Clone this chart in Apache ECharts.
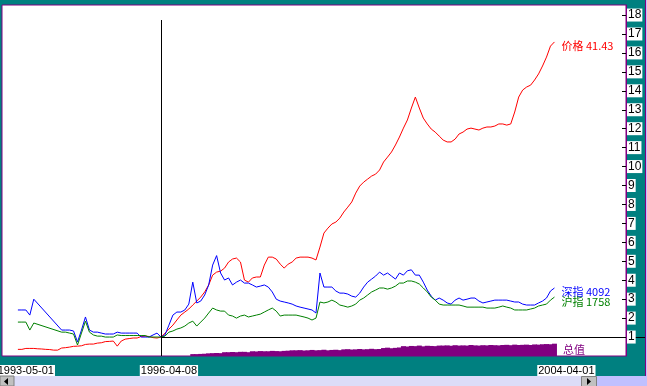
<!DOCTYPE html>
<html><head><meta charset="utf-8">
<script src="https://cdn.jsdelivr.net/npm/echarts@6/dist/echarts.min.js"></script>
<style>html,body{margin:0;padding:0;background:#008080;overflow:hidden}#c{width:647px;height:386px;}</style>
</head><body><div id="c"></div>
<script>
// ---- data ----
const categoryCount = 158;           // trading-period slots on the x axis
const baseIndex = 40;                // 1996-04-08, normalisation base (all series = 1)
const dateLabels = {6: '1993-05-01', 42: '1996-04-08', 142: '2004-04-01'};
const yTickValues = [1,2,3,4,5,6,7,8,9,10,11,12,13,14,15,16,17,18];

const price = [null,null,null,null,
 0.35,0.35,0.4,0.4,0.4,0.38,0.37,0.35,0.34,0.31,0.31,0.42,0.44,0.47,0.51,0.52,0.54,0.61,0.63,0.63,0.68,0.7,0.76,0.77,0.79,0.52,0.79,0.89,0.92,0.95,0.95,1.03,1.05,1.03,0.97,0.95,
 1.0,1.2,1.42,1.63,1.9,2.16,2.32,2.48,2.69,2.9,
 3.11,3.38,3.75,4.27,4.43,4.48,4.64,4.96,5.12,5.17,
 4.96,4.01,3.9,4.12,4.17,4.17,4.8,5.22,5.22,5.12,
 4.85,4.64,4.85,4.96,5.17,5.22,5.22,5.22,5.17,5.07,
 5.75,6.49,6.75,6.97,7.07,7.28,7.6,7.86,8.13,8.6,
 8.97,9.18,9.34,9.5,9.6,9.82,10.24,10.5,10.77,11.14,
 11.56,12.03,12.46,13.09,13.67,13.09,12.56,12.25,11.98,11.82,
 11.61,11.4,11.3,11.3,11.45,11.72,11.82,11.98,12.03,11.98,
 11.93,12.03,12.09,12.09,12.14,12.25,12.25,12.19,12.25,12.88,
 13.67,14.04,14.2,14.3,14.57,14.89,15.31,15.78,16.36,16.58];

const shenzhen = [null,null,null,null,
 2.43,2.43,2.43,2.16,3.0,null,null,null,null,null,null,
 1.37,1.37,1.37,1.32,0.74,1.37,2.06,1.37,1.26,1.26,1.21,1.16,1.16,1.16,1.26,1.21,1.21,1.21,1.21,1.21,1.0,1.0,1.0,1.11,1.21,
 1.0,1.11,1.63,2.16,2.32,2.32,2.43,2.74,3.9,2.8,
 2.9,3.22,3.75,4.8,5.3,4.38,4.01,4.12,3.75,3.9,
 4.01,3.85,3.85,3.75,3.64,3.69,3.75,3.64,3.38,3.0,
 2.9,2.85,2.8,2.74,2.64,2.58,2.53,2.48,2.43,2.27,
 4.38,3.64,3.64,3.64,3.43,3.32,3.32,3.27,3.16,3.11,
 3.32,3.64,3.9,4.06,4.22,4.43,4.27,4.38,4.22,4.06,
 4.38,4.27,4.5,4.55,4.27,4.27,3.9,3.48,3.16,2.95,
 3.06,2.95,2.8,2.74,2.95,3.06,2.95,3.0,3.06,3.06,
 2.9,2.8,2.85,2.9,2.95,2.95,2.95,2.95,2.9,2.85,
 2.85,2.74,2.69,2.69,2.69,2.8,2.9,3.06,3.43,3.59];

const shanghai = [null,null,null,null,
 1.79,1.79,1.79,1.37,1.74,null,null,null,null,null,null,
 1.26,1.26,1.21,1.16,0.58,1.21,1.84,1.26,1.11,1.05,1.05,1.0,1.0,1.0,1.11,1.08,1.08,1.08,1.08,1.08,1.08,1.08,1.0,1.0,1.0,
 1.0,1.05,1.26,1.32,1.42,1.48,1.58,1.74,1.84,1.58,
 1.79,2.0,2.27,2.53,2.43,2.37,2.37,2.16,2.11,2.0,
 2.11,2.16,2.06,2.11,2.16,2.21,2.32,2.43,2.53,2.37,
 2.11,2.16,2.16,2.16,2.16,2.11,2.06,2.0,1.9,2.0,
 2.85,2.8,2.85,2.95,2.85,2.69,2.64,2.58,2.64,2.74,
 2.95,3.06,3.22,3.38,3.48,3.59,3.59,3.53,3.59,3.69,
 3.85,3.85,3.96,3.96,3.9,3.8,3.59,3.38,3.11,2.95,
 2.74,2.69,2.69,2.69,2.69,2.69,2.64,2.58,2.58,2.58,
 2.58,2.58,2.53,2.53,2.53,2.58,2.64,2.58,2.53,2.43,
 2.43,2.43,2.43,2.48,2.53,2.64,2.69,2.74,2.95,3.11];

const totalValue = [null,null,null,null,null,null,null,null,null,null,
 null,null,null,null,null,null,null,null,null,null,
 null,null,null,null,null,null,null,null,null,null,
 null,null,null,null,null,null,null,null,null,null,
 null,null,null,null,null,null,null,null,
 0.1,0.1,0.11,0.12,0.14,0.15,0.16,0.15,0.2,0.2,0.21,0.2,0.22,0.22,0.2,
 0.25,0.24,0.26,0.25,0.25,0.27,0.26,0.25,0.27,0.28,
 0.3,0.3,0.31,0.29,0.3,0.32,0.3,0.31,0.33,0.3,0.32,0.33,0.31,
 0.35,0.36,0.34,0.35,0.37,0.35,0.36,0.38,0.36,0.37,
 0.42,0.44,0.41,0.43,0.45,
 0.52,0.5,0.53,0.52,0.55,0.51,0.54,0.53,0.52,0.55,
 0.55,0.56,0.54,0.57,0.55,0.56,0.55,0.58,0.56,0.55,0.57,0.56,0.58,0.57,0.56,
 0.58,0.59,0.57,0.6,0.58,0.59,0.6,0.58,0.61,0.6,
 0.62,0.63,0.62,0.65];

const seriesNames = ['价格','深指','沪指','总值'];
const lastValues = ['41.43','4092','1758'];

// ---- chart ----
const categories = [];
for (let i = 0; i < categoryCount; i++) categories.push(String(i));

const chart = echarts.init(document.getElementById('c'), null, {renderer: 'canvas'});
const labelFont = 'Liberation Sans, Arial, sans-serif';
const cjkFont = '"Noto Sans CJK SC", "Liberation Sans", sans-serif';

function endLabel(color, text, dy) {
  return {show: true, formatter: text, color: color, fontSize: 11, fontFamily: cjkFont, distance: 7, offset: [0, dy]};
}

const volData = totalValue.map((v, i) => (i === totalValue.length - 1)
  ? {value: v, label: {show: true, position: 'right', distance: 6, formatter: seriesNames[3], color: '#800080', fontSize: 11, fontFamily: cjkFont}}
  : v);

chart.setOption({
  backgroundColor: '#008080',
  animation: false,
  grid: {left: 2, top: 5, width: 624, height: 351, containLabel: false, outerBoundsMode: 'none',
         show: true, backgroundColor: '#ffffff', borderColor: '#800080', borderWidth: 1},
  xAxis: {
    type: 'category', data: categories, boundaryGap: false,
    axisLine: {show: false}, axisTick: {show: false}, splitLine: {show: false},
    axisLabel: {
      interval: (idx) => dateLabels[idx] !== undefined,
      formatter: (val, idx) => dateLabels[idx] || '',
      color: '#000', fontSize: 11, fontFamily: labelFont, backgroundColor: '#fff', padding: [0, 1, 0, 1], margin: 9
    }
  },
  yAxis: {
    type: 'value', position: 'right', min: 0, max: 18.53, interval: 1, z: 10,
    axisLine: {show: true, lineStyle: {color: '#800080', width: 1}},
    axisTick: {show: true, inside: true, length: 4, lineStyle: {color: '#000'}},
    splitLine: {show: false},
    axisLabel: {
      showMinLabel: false, showMaxLabel: false, margin: 1,
      formatter: (v) => yTickValues.indexOf(v) >= 0 ? String(v) : '',
      color: '#000', fontSize: 12, fontFamily: labelFont, backgroundColor: '#fff', padding: [1, 1, 0, 1]
    }
  },
  series: [
    {name: seriesNames[3], type: 'bar', data: volData, barWidth: 5, itemStyle: {color: '#800080'}, z: 1},
    {name: seriesNames[0], type: 'line', data: price, connectNulls: true, showSymbol: false, lineStyle: {color: '#ff0000', width: 1}, itemStyle: {color: '#ff0000'}, endLabel: endLabel('#ff0000', seriesNames[0] + ' ' + lastValues[0], 4)},
    {name: seriesNames[1], type: 'line', data: shenzhen, connectNulls: true, showSymbol: false, lineStyle: {color: '#0000ff', width: 1}, itemStyle: {color: '#0000ff'}, endLabel: endLabel('#0000ff', seriesNames[1] + ' ' + lastValues[1], 4)},
    {name: seriesNames[2], type: 'line', data: shanghai, connectNulls: true, showSymbol: false, lineStyle: {color: '#008000', width: 1}, itemStyle: {color: '#008000'}, endLabel: endLabel('#008000', seriesNames[2] + ' ' + lastValues[2], 5)}
  ]
});

// crosshair at the normalisation base point, positioned with the chart's own scales
const p = chart.convertToPixel({gridIndex: 0}, [baseIndex, 1]);
const cx = Math.round(p[0]) + 0.5, cy = Math.round(p[1]) + 0.5;
chart.setOption({
  graphic: [
    {type: 'line', z: 5, shape: {x1: cx, y1: 20, x2: cx, y2: 356}, style: {stroke: '#000', lineWidth: 1}},
    {type: 'line', z: 5, shape: {x1: cx, y1: cy, x2: 647, y2: cy}, style: {stroke: '#000', lineWidth: 1}},
    // window chrome: right border and scrollbar
    {type: 'rect', z: 6, shape: {x: 645, y: 0, width: 2, height: 386}, style: {fill: '#c0c0ff'}},
    {type: 'rect', z: 6, shape: {x: 645, y: 0, width: 1, height: 376}, style: {fill: '#800080'}},
    {type: 'rect', z: 6, shape: {x: 0, y: 376, width: 647, height: 10}, style: {fill: '#c0c0ff'}},
    {type: 'rect', z: 6, shape: {x: 0, y: 376, width: 597, height: 10}, style: {fill: '#dcdcf8'}},
    {type: 'rect', z: 7, shape: {x: 0, y: 376, width: 14, height: 10}, style: {fill: '#c0c0c0', stroke: '#808080', lineWidth: 1}},
    {type: 'polygon', z: 8, shape: {points: [[8, 378], [8, 385], [4, 381.5]]}, style: {fill: '#000'}},
    {type: 'rect', z: 7, shape: {x: 581.5, y: 376.5, width: 15, height: 10}, style: {fill: '#c0c0c0', stroke: '#808080', lineWidth: 1}},
    {type: 'polygon', z: 8, shape: {points: [[587, 378], [587, 385], [591, 381.5]]}, style: {fill: '#000'}}
  ]
});
</script>
</body></html>
